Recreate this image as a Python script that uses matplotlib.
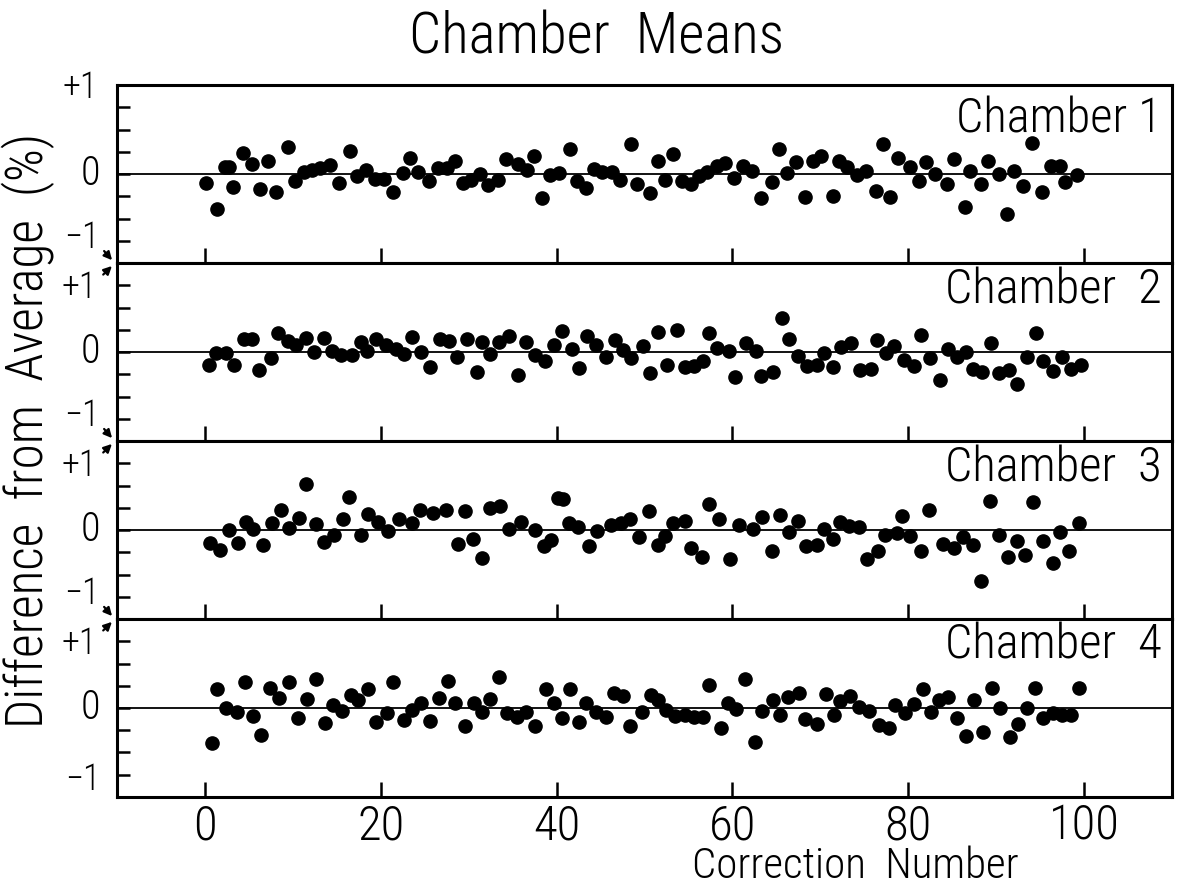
import matplotlib
matplotlib.use("Agg")
import matplotlib.pyplot as plt

plt.rcParams['font.family'] = ['Roboto Condensed', 'Liberation Sans Narrow', 'DejaVu Sans']
plt.rcParams['font.weight'] = 'light'

# Chamber 1
x1 = [0.1, 1.4, 2.3, 2.7, 3.2, 4.3, 5.3, 6.3, 7.2, 8.1,
      9.4, 10.2, 11.3, 12.2, 13.1, 14.2, 15.2, 16.5, 17.3, 18.3,
      19.3, 20.4, 21.4, 22.5, 23.3, 24.2, 25.5, 26.5, 27.5, 28.5,
      29.4, 30.3, 31.3, 32.2, 33.3, 34.3, 35.6, 36.6, 37.4, 38.4,
      39.3, 40.3, 41.5, 42.3, 43.3, 44.3, 45.2, 46.3, 47.2, 48.5,
      49.1, 50.6, 51.6, 52.3, 53.3, 54.25, 55.3, 56.25, 57.1, 58.3,
      59.2, 60.2, 61.2, 62.2, 63.25, 64.5, 65.3, 66.25, 67.3, 68.25,
      69.2, 70.1, 71.4, 72.1, 73.1, 74.2, 75.2, 76.3, 77.2, 77.9,
      78.8, 80.2, 81.2, 82.0, 83.1, 84.4, 85.2, 86.5, 87.1, 88.25,
      89.1, 90.3, 91.25, 92.0, 93.1, 94.1, 95.2, 96.25, 97.3, 97.9,
      99.25]
y1 = [-0.10, -0.39, 0.08, 0.08, -0.14, 0.24, 0.12, -0.17, 0.15, -0.20,
      0.31, -0.08, 0.03, 0.05, 0.07, 0.10, -0.10, 0.26, -0.02, 0.05,
      -0.05, -0.05, -0.20, 0.01, 0.18, 0.02, -0.08, 0.07, 0.07, 0.15,
      -0.10, -0.06, 0.00, -0.12, -0.06, 0.17, 0.11, 0.05, 0.21, -0.27,
      -0.01, 0.01, 0.28, -0.08, -0.15, 0.06, 0.03, 0.03, -0.07, 0.34,
      -0.11, -0.21, 0.15, -0.07, 0.23, -0.08, -0.11, -0.02, 0.02, 0.09,
      0.13, -0.04, 0.09, 0.04, -0.27, -0.09, 0.28, 0.01, 0.14, -0.26,
      0.15, 0.20, -0.25, 0.15, 0.08, -0.01, 0.04, -0.19, 0.34, -0.26,
      0.18, 0.08, -0.08, 0.14, 0.00, -0.11, 0.17, -0.37, 0.04, -0.11,
      0.15, 0.00, -0.45, 0.04, -0.13, 0.35, -0.20, 0.09, 0.09, -0.09,
      -0.01]

# Chamber 2
x2 = [0.5, 1.3, 2.4, 3.3, 4.4, 5.3, 6.2, 7.5, 8.3, 9.4,
      10.4, 11.5, 12.4, 13.5, 14.5, 15.5, 16.7, 17.7, 18.4, 19.5,
      20.6, 21.7, 22.7, 23.6, 24.6, 25.6, 26.7, 27.8, 28.7, 29.8,
      30.9, 31.5, 32.4, 33.4, 34.6, 35.6, 36.5, 37.5, 38.7, 39.7,
      40.6, 41.8, 42.6, 43.5, 44.5, 45.6, 46.6, 47.6, 48.5, 49.8,
      50.6, 51.6, 52.6, 53.7, 54.6, 55.6, 56.7, 57.4, 58.3, 59.6,
      60.3, 61.6, 62.7, 63.3, 64.6, 65.6, 66.5, 67.5, 68.5, 69.6,
      70.4, 71.5, 72.4, 73.5, 74.5, 75.75, 76.5, 77.5, 78.4, 79.5,
      80.7, 81.5, 82.5, 83.6, 84.5, 85.6, 86.6, 87.4, 88.4, 89.4,
      90.4, 91.5, 92.4, 93.5, 94.5, 95.3, 96.5, 97.5, 98.5, 99.7]
y2 = [-0.15, -0.01, -0.01, -0.15, 0.15, 0.15, -0.20, -0.07, 0.22, 0.13,
      0.08, 0.16, 0.00, 0.16, 0.01, -0.03, -0.03, 0.11, 0.01, 0.15,
      0.08, 0.03, -0.02, 0.17, 0.00, -0.17, 0.15, 0.13, -0.05, 0.15,
      -0.22, 0.11, -0.02, 0.11, 0.18, -0.26, 0.11, -0.03, -0.10, 0.08,
      0.24, 0.03, -0.18, 0.18, 0.08, -0.06, 0.14, 0.02, -0.07, 0.07,
      -0.24, 0.23, -0.14, 0.25, -0.17, -0.16, -0.10, 0.22, 0.05, 0.01,
      -0.28, 0.10, 0.01, -0.27, -0.22, 0.38, 0.15, -0.04, -0.16, -0.15,
      -0.01, -0.17, 0.06, 0.10, -0.20, -0.19, 0.14, -0.01, 0.07, -0.09,
      -0.16, 0.19, -0.07, -0.31, 0.04, -0.05, 0.00, -0.19, -0.22, 0.10,
      -0.23, -0.20, -0.36, -0.05, 0.21, -0.10, -0.21, -0.05, -0.19, -0.14]

# Chamber 3
x3 = [0.6, 1.7, 2.7, 3.8, 4.65, 5.5, 6.6, 7.6, 8.6, 9.6,
      10.7, 11.5, 12.6, 13.5, 14.7, 15.7, 16.4, 17.7, 18.6, 19.7,
      20.8, 22.1, 23.6, 24.5, 26.0, 27.4, 28.8, 29.6, 30.5, 31.5,
      32.4, 33.6, 34.6, 36.0, 37.5, 38.6, 39.4, 40.2, 40.7, 41.4,
      42.5, 43.7, 44.6, 46.2, 47.3, 48.4, 49.4, 50.5, 51.5, 52.3,
      53.3, 54.6, 55.3, 56.5, 57.3, 58.5, 59.7, 60.8, 62.3, 63.4,
      64.5, 65.4, 66.5, 67.5, 68.4, 69.6, 70.4, 71.5, 72.3, 73.3,
      74.4, 75.3, 76.6, 77.4, 78.7, 79.3, 80.2, 81.5, 82.4, 84.0,
      85.2, 86.2, 87.4, 88.25, 89.3, 90.3, 91.4, 92.4, 93.3, 94.25,
      95.3, 96.5, 97.3, 98.3, 99.5]
y3 = [-0.14, -0.22, 0.00, -0.15, 0.09, 0.01, -0.17, 0.08, 0.23, 0.02,
      0.14, 0.52, 0.07, -0.13, -0.06, 0.13, 0.37, -0.06, 0.18, 0.09,
      -0.01, 0.12, 0.08, 0.23, 0.19, 0.23, -0.16, 0.22, -0.10, -0.31,
      0.25, 0.27, 0.01, 0.09, 0.00, -0.18, -0.11, 0.36, 0.35, 0.08,
      0.04, -0.18, -0.01, 0.06, 0.08, 0.13, -0.08, 0.21, -0.17, -0.07,
      0.08, 0.10, -0.20, -0.30, 0.29, 0.13, -0.32, 0.06, 0.01, 0.15,
      -0.24, 0.17, -0.02, 0.10, -0.18, -0.17, 0.01, -0.10, 0.09, 0.05,
      0.04, -0.32, -0.23, -0.05, -0.03, 0.16, -0.07, -0.23, 0.23, -0.16,
      -0.20, -0.08, -0.17, -0.57, 0.33, -0.05, -0.30, -0.12, -0.28, 0.32,
      -0.12, -0.37, -0.02, -0.24, 0.08]

# Chamber 4
x4 = [0.8, 1.4, 2.4, 3.6, 4.6, 5.5, 6.4, 7.4, 8.4, 9.6,
      10.6, 11.6, 12.6, 13.7, 14.6, 15.6, 16.6, 17.4, 18.5, 19.5,
      20.7, 21.4, 22.7, 23.6, 24.6, 25.6, 26.6, 27.6, 28.4, 29.6,
      30.6, 31.5, 32.4, 33.4, 34.4, 35.5, 36.5, 37.5, 38.8, 39.7,
      40.6, 41.5, 42.6, 43.4, 44.5, 45.6, 46.5, 47.6, 48.4, 49.7,
      50.7, 51.6, 52.5, 53.5, 54.6, 55.6, 56.7, 57.3, 58.7, 59.5,
      60.4, 61.4, 62.6, 63.4, 64.6, 65.4, 66.3, 67.6, 68.3, 69.6,
      70.7, 71.6, 72.3, 73.4, 74.4, 75.5, 76.7, 77.8, 78.5, 79.7,
      80.7, 81.7, 82.6, 83.5, 84.5, 85.6, 86.6, 87.5, 88.5, 89.5,
      90.5, 91.6, 92.5, 93.5, 94.4, 95.4, 96.5, 97.5, 98.5, 99.5]
y4 = [-0.39, 0.21, 0.00, -0.05, 0.29, -0.09, -0.30, 0.22, 0.11, 0.29,
      -0.11, 0.10, 0.33, -0.17, 0.03, -0.03, 0.15, 0.09, 0.21, -0.16,
      -0.06, 0.29, -0.14, -0.02, 0.06, -0.15, 0.11, 0.30, 0.06, -0.20,
      0.06, -0.04, 0.10, 0.35, -0.06, -0.10, -0.04, -0.20, 0.21, 0.06,
      -0.11, 0.21, -0.16, 0.06, -0.05, -0.10, 0.17, 0.14, -0.20, -0.05,
      0.15, 0.09, -0.02, -0.09, -0.08, -0.10, -0.10, 0.26, -0.22, 0.06,
      -0.01, 0.33, -0.38, -0.03, 0.09, -0.08, 0.12, 0.17, -0.12, -0.18,
      0.16, -0.08, 0.08, 0.14, 0.01, -0.03, -0.19, -0.22, 0.03, -0.06,
      0.05, 0.21, -0.05, 0.09, 0.12, -0.11, -0.31, 0.09, -0.27, 0.23,
      0.00, -0.33, -0.18, 0.00, 0.22, -0.11, -0.06, -0.08, -0.08, 0.23]

labels = ['Chamber 1', 'Chamber  2', 'Chamber  3', 'Chamber  4']
xticks = [0, 20, 40, 60, 80, 100]
yticks = [-1, -0.75, -0.5, -0.25, 0, 0.25, 0.5, 0.75, 1]

series = [(x1, y1), (x2, y2), (x3, y3), (x4, y4)]

fig, axes = plt.subplots(4, 1, figsize=(11.86, 8.88), dpi=100, sharex=True)
fig.subplots_adjust(left=0.0987, right=0.988, top=0.904, bottom=0.1025, hspace=0)

for i, (ax, (xs, ys)) in enumerate(zip(axes, series)):
    ax.axhline(0, color='black', lw=1.3, zorder=1)
    ax.plot(xs, ys, 'o', color='black', markersize=9.5, zorder=3)
    ax.set_xlim(-10, 110)
    ax.set_ylim(-1, 1)
    ax.set_xticks(xticks)
    ax.set_yticks(yticks)
    ax.tick_params(axis='x', direction='in', length=11, width=1.8,
                   top=False, labelsize=35, pad=4)
    ax.tick_params(axis='y', direction='in', length=9.5, width=1.8,
                   right=False, labelleft=False)
    for sp in ax.spines.values():
        sp.set_linewidth(2.2)

    ax.text(0.9905, 0.81 if i == 0 else 0.85, labels[i], transform=ax.transAxes,
            ha='right', va='center', fontsize=35)

    # hand-lettered y labels: +1 / 0 / -1 with little arrows at shared borders
    ytr = ax.get_yaxis_transform()
    ax.text(-0.016, 0, '0', transform=ytr, ha='right', va='center', fontsize=29)
    if i == 0:
        ax.text(-0.018, 0.97, '+1', transform=ytr, ha='right', va='center', fontsize=26)
    else:
        ax.text(-0.019, 0.72, '+1', transform=ytr, ha='right', va='center', fontsize=26)
        ax.annotate('', xy=(-0.003, 0.99), xycoords=ytr, xytext=(-0.015, 0.85), textcoords=ytr,
                    arrowprops=dict(arrowstyle='-|>', lw=1.6, color='black', mutation_scale=12))
    if i < 3:
        ax.text(-0.017, -0.72, '−1', transform=ytr, ha='right', va='center', fontsize=26)
        ax.annotate('', xy=(-0.003, -0.99), xycoords=ytr, xytext=(-0.014, -0.84), textcoords=ytr,
                    arrowprops=dict(arrowstyle='-|>', lw=1.6, color='black', mutation_scale=12))
    else:
        ax.text(-0.016, -0.81, '−1', transform=ytr, ha='right', va='center', fontsize=26)

fig.text(0.503, 1 - 38 / 888, 'Chamber  Means', ha='center', va='center', fontsize=41)
fig.text(28 / 1186, 1 - 430 / 888, 'Difference  from  Average  (%)', rotation=90,
         ha='center', va='center', fontsize=37)
fig.text(855 / 1186, 1 / 888, 'Correction  Number', ha='center', va='bottom', fontsize=31)

fig.savefig('out.png', dpi=100)
